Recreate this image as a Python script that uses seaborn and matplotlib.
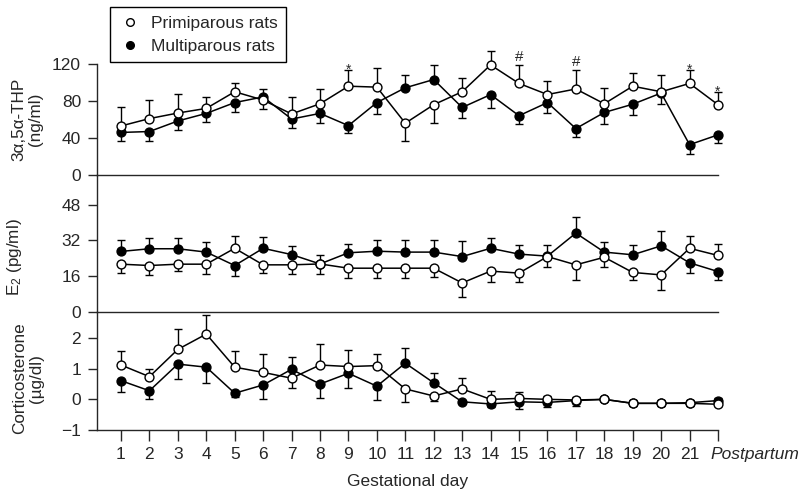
import matplotlib
matplotlib.use("Agg")
import matplotlib.pyplot as plt
import matplotlib.transforms as mtransforms
from matplotlib.lines import Line2D
import numpy as np
import pandas as pd
import seaborn as sns

# ---------------- data ----------------
days = list(range(1, 23))
xtick_labels = [str(d) for d in range(1, 22)] + ["Postpartum"]
groups = ["Primiparous rats", "Multiparous rats"]

# 3α,5α-THP (ng/ml); signed SEM: + drawn upward, - drawn downward
thp_prim = [53, 61, 67, 72, 90, 81, 66, 77, 96, 95, 56, 76, 90, 119, 99, 87, 93, 77, 96, 90, 99, 76]
thp_prim_err = [20, 20, 21, 12.5, 9.6, -10, 18.5, 16, 18, 21, -19.6, -19.6, 15, 15, 20, 15, 21, 17.4, 14, 18.5, 15, 14]
thp_multi = [46, 47, 58.4, 66.6, 78.3, 84.4, 60.5, 66.6, 53.4, 78.3, 94.3, 103.2, 73, 86.9, 64.1, 78.3, 50.2, 67.6, 76.5, 88.6, 32.8, 43.4]
thp_multi_err = [-9.6, -10.7, -9.6, -9, -10, 9, -10, -10.7, -8.2, -12.8, 14, 16, -11.8, -14.3, -9.3, -11.7, -9.3, -12.8, -11.7, -12, -9.6, -9]

# E2 (pg/ml)
e2_prim = [21.4, 20.8, 21.4, 21.4, 28.5, 21.1, 21.1, 21.5, 19.6, 19.6, 19.6, 19.6, 13.0, 18.3, 17.4, 24.8, 21.1, 24.5, 17.7, 16.6, 28.5, 25.3]
e2_prim_err = [-4.0, -4.2, -3.1, -4.3, 5.4, -3.6, -4.0, -4.5, -4.3, -4.3, -4.3, -4.0, -6.4, -4.9, -4.0, -4.5, -7.0, -4.5, -3.6, -6.7, 5.4, 5.2]
e2_multi = [27.1, 28.3, 28.3, 26.8, 20.8, 28.5, 25.7, 21.5, 26.5, 27.2, 26.8, 26.8, 24.8, 28.5, 25.9, 25.0, 35.3, 26.8, 25.6, 29.6, 22.0, 18.1]
e2_multi_err = [4.9, 4.8, 4.8, 4.5, -4.5, 4.9, 4.0, 4.0, 4.0, 4.8, 5.2, 5.5, 6.9, 4.5, 3.9, 4.8, 7.2, 4.5, 4.2, 6.6, -4.5, -3.6]

# Corticosterone (µg/dl)
cort_prim = [1.12, 0.74, 1.63, 2.13, 1.05, 0.88, 0.69, 1.12, 1.07, 1.10, 0.34, 0.11, 0.34, 0.0, 0.03, 0.0, -0.02, 0.0, -0.13, -0.13, -0.13, -0.16]
cort_prim_err = [0.46, 0.25, 0.67, 0.62, 0.53, 0.6, -0.31, 0.68, 0.54, 0.38, -0.42, -0.15, 0.35, 0.28, 0.22, 0.11, 0.11, 0.06, -0.08, -0.08, -0.08, -0.06]
cort_multi = [0.61, 0.28, 1.15, 1.05, 0.20, 0.47, 0.98, 0.50, 0.85, 0.43, 1.18, 0.54, -0.08, -0.15, -0.08, -0.10, -0.04, 0.0, -0.13, -0.13, -0.11, -0.04]
cort_multi_err = [-0.36, -0.28, -0.5, -0.53, -0.11, -0.47, 0.39, -0.47, -0.47, -0.45, 0.51, 0.33, -0.05, -0.09, -0.24, -0.14, -0.17, 0.06, 0.1, 0.1, 0.08, 0.08]

# significance marks (top panel, above primiparous error bars)
sig_days = [9, 15, 17, 21, 22]
sig_marks = ["*", "#", "#", "*", "*"]

# ---------------- style ----------------
sns.set_style("ticks")
plt.rcParams["font.family"] = ["Liberation Sans", "DejaVu Sans"]
plt.rcParams["mathtext.default"] = "regular"
plt.rcParams["axes.linewidth"] = 1.0

fig = plt.figure(figsize=(8, 4.95), dpi=100)
W, H = 800, 495
left = 97 / W
width = 621 / W
ax_top = fig.add_axes([left, 1 - 175 / H, width, 111 / H])
ax_mid = fig.add_axes([left, 1 - 312 / H, width, 137 / H])
ax_bot = fig.add_axes([left, 1 - 430 / H, width, 118 / H])

panels = [
    (ax_top, thp_prim, thp_prim_err, thp_multi, thp_multi_err, (0, 120), [0, 40, 80, 120],
     "3α,5α-THP\n(ng/ml)", (-0.087, 0.5)),
    (ax_mid, e2_prim, e2_prim_err, e2_multi, e2_multi_err, (0, 61.3), [0, 16, 32, 48],
     "E$_2$ (pg/ml)", (-0.117, 0.40)),
    (ax_bot, cort_prim, cort_prim_err, cort_multi, cort_multi_err, (-1, 2.85), [-1, 0, 1, 2],
     "Corticosterone\n(µg/dl)", (-0.085, 0.44)),
]

for ax, p, pe, m, me, ylim, yticks, ylabel, lc in panels:
    df = pd.DataFrame({
        "day": days * 2,
        "value": p + m,
        "group": [groups[0]] * len(days) + [groups[1]] * len(days),
    })
    for vals, errs in ((p, pe), (m, me)):
        errs = np.array(errs, dtype=float)
        lower = np.where(errs < 0, -errs, 0)
        upper = np.where(errs > 0, errs, 0)
        ax.errorbar(days, vals, yerr=[lower, upper], fmt="none", ecolor="black",
                    elinewidth=1.0, capsize=2.6, capthick=1.0, zorder=1, clip_on=False)
    sns.lineplot(data=df[df.group == groups[1]], x="day", y="value", ax=ax, color="black",
                 marker="o", markersize=6.4, markerfacecolor="black", markeredgecolor="black",
                 markeredgewidth=1.0, linewidth=1.1, errorbar=None, legend=False, zorder=3,
                 clip_on=False)
    sns.lineplot(data=df[df.group == groups[0]], x="day", y="value", ax=ax, color="black",
                 marker="o", markersize=6.4, markerfacecolor="white", markeredgecolor="black",
                 markeredgewidth=1.0, linewidth=1.1, errorbar=None, legend=False, zorder=4,
                 clip_on=False)
    ax.set_xlim(1 - 24 / 28.43, 22)
    ax.set_ylim(*ylim)
    ax.set_yticks(yticks)
    ax.set_xlabel("")
    ax.set_ylabel(ylabel, fontsize=12.3, linespacing=1.15)
    ax.yaxis.set_label_coords(*lc)
    ax.tick_params(axis="y", direction="out", length=6.5, width=1.0, labelsize=12.5, pad=5)
    sns.despine(ax=ax, top=True, right=True)
    ax.set_facecolor("none")

for ax in (ax_top, ax_mid):
    ax.set_xticks([])

ax_bot.set_xticks(days)
ax_bot.set_xticklabels(xtick_labels)
ax_bot.tick_params(axis="x", direction="out", length=8, width=1.0, labelsize=12.5, pad=4)
pp = ax_bot.get_xticklabels()[-1]
pp.set_fontstyle("italic")
pp.set_horizontalalignment("left")
pp.set_transform(pp.get_transform() + mtransforms.ScaledTranslation(-8 / 100, 0, fig.dpi_scale_trans))
ax_bot.set_xlabel("Gestational day", fontsize=12.5, labelpad=9)

# significance marks
for d, mk in zip(sig_days, sig_marks):
    i = days.index(d)
    top = thp_prim[i] + thp_prim_err[i]
    off = 2.5 if mk == "#" else -3.0
    ax_top.annotate(mk, (d, top), xytext=(0, off), textcoords="offset points",
                    ha="center", va="baseline", fontsize=11 if mk == "#" else 10,
                    annotation_clip=False)

# legend
handles = [
    Line2D([], [], linestyle="none", marker="o", markersize=5.5, markerfacecolor="white",
           markeredgecolor="black", markeredgewidth=1.0),
    Line2D([], [], linestyle="none", marker="o", markersize=5.5, markerfacecolor="black",
           markeredgecolor="black", markeredgewidth=1.0),
]
leg = fig.legend(handles, groups, loc="upper left", bbox_to_anchor=(110 / W, 1 - 7 / H),
                 frameon=True, fancybox=False, edgecolor="black", framealpha=1,
                 fontsize=12.5, handlelength=1.3, handletextpad=0.55, borderpad=0.5,
                 labelspacing=0.45, borderaxespad=0)
leg.get_frame().set_linewidth(1.0)

fig.savefig("out.png", dpi=100)
